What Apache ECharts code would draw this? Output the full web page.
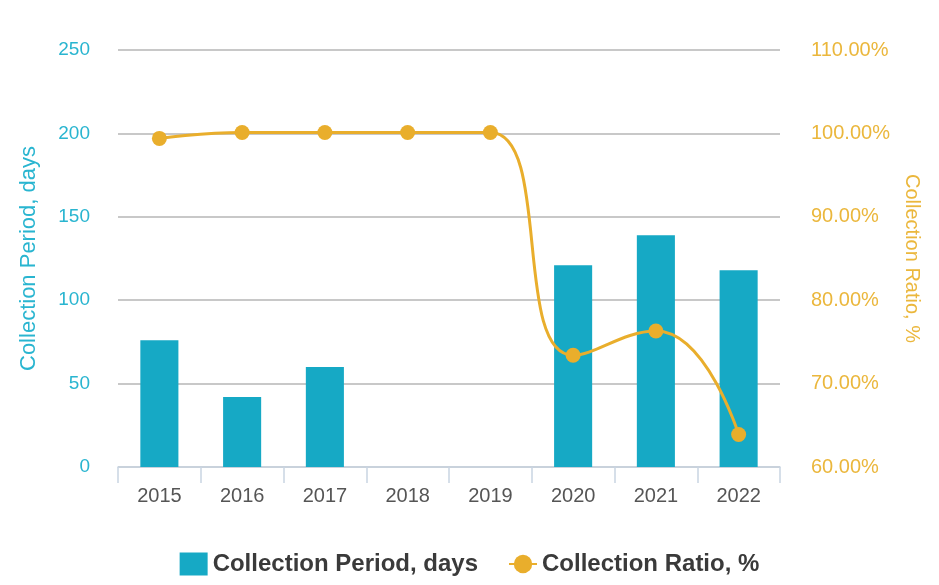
<!DOCTYPE html>
<html>
<head>
<meta charset="utf-8">
<script src="https://cdn.jsdelivr.net/npm/echarts@6/dist/echarts.min.js"></script>
<style>
    html, body { margin: 0; padding: 0; background: #fff; }
    #chart { width: 939px; height: 585px; }
</style>
</head>
<body>
<div id="chart"></div>
<script>
    var years = ['2015', '2016', '2017', '2018', '2019', '2020', '2021', '2022'];
    var periodDays = [76, 42, 60, 0, 0, 121, 139, 118];
    var ratioPct = [99.4, 100.1, 100.1, 100.1, 100.1, 73.4, 76.3, 63.9];

    var chart = echarts.init(document.getElementById('chart'));
    var font = 'Liberation Sans, Arial, sans-serif';

    var option = {
        animation: false,
        textStyle: { fontFamily: font },
        grid: { left: 118, right: 159, top: 50, bottom: 118 },
        legend: {
            bottom: 4,
            left: 'center',
            itemGap: 30,
            itemWidth: 28,
            itemHeight: 23,
            textStyle: { fontSize: 24, fontWeight: 'bold', color: '#3a3a3a', fontFamily: font },
            data: [
                { name: 'Collection Period, days', icon: 'rect' },
                { name: 'Collection Ratio, %' }
            ]
        },
        xAxis: {
            type: 'category',
            data: years,
            axisLine: { lineStyle: { color: '#c9d5e2', width: 1.5 } },
            axisTick: { show: true, length: 16, lineStyle: { color: '#c9d5e2', width: 1.5 } },
            axisLabel: { color: '#555', fontSize: 20, margin: 19 }
        },
        yAxis: [
            {
                type: 'value',
                min: 0,
                max: 250,
                interval: 50,
                name: 'Collection Period, days',
                nameLocation: 'middle',
                nameGap: 78,
                nameTextStyle: { color: '#29b5d0', fontSize: 22 },
                axisLine: { show: false },
                axisTick: { show: false },
                axisLabel: { color: '#29b5d0', fontSize: 19, margin: 28 },
                splitLine: { lineStyle: { color: '#c8c8c8', width: 2 } }
            },
            {
                type: 'value',
                min: 60,
                max: 110,
                interval: 10,
                position: 'right',
                name: 'Collection Ratio, %',
                nameLocation: 'middle',
                nameRotate: -90,
                nameGap: 122,
                nameTextStyle: { color: '#ebb73c', fontSize: 20 },
                axisLine: { show: false },
                axisTick: { show: false },
                axisLabel: {
                    color: '#ebb73c',
                    fontSize: 20,
                    margin: 31,
                    formatter: function (v) { return v.toFixed(2) + '%'; }
                },
                splitLine: { show: false }
            }
        ],
        series: [
            {
                name: 'Collection Period, days',
                type: 'bar',
                data: periodDays,
                barWidth: '46%',
                itemStyle: { color: '#16a9c5' }
            },
            {
                name: 'Collection Ratio, %',
                type: 'line',
                yAxisIndex: 1,
                data: ratioPct,
                smooth: 0.5,
                symbol: 'circle',
                symbolSize: 15,
                lineStyle: { color: '#e9ae2c', width: 3 },
                itemStyle: { color: '#e9ae2c' }
            }
        ]
    };

    chart.setOption(option);
</script>
</body>
</html>
